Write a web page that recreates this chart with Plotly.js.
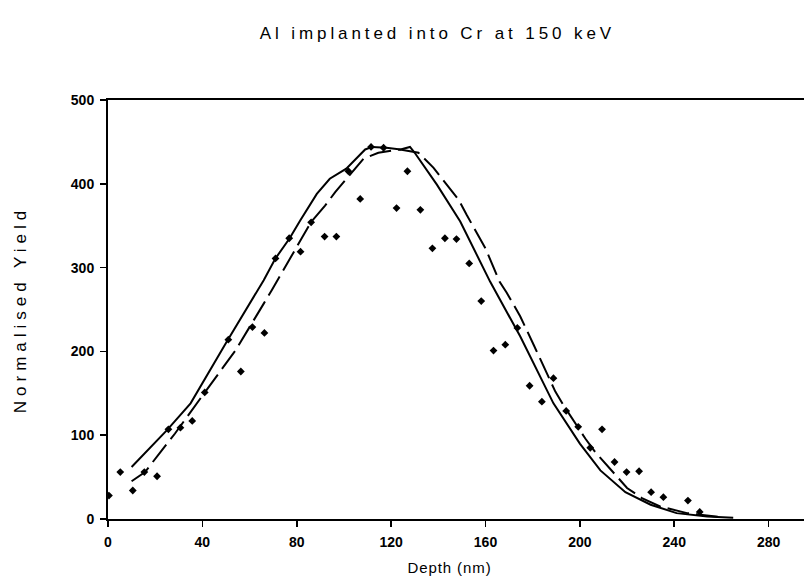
<!DOCTYPE html>
<html>
<head>
<meta charset="utf-8">
<script src="https://cdn.plot.ly/plotly-3.0.1.min.js"></script>
<style>html,body{margin:0;padding:0;background:#fff;}#chart{width:804px;height:587px;}</style>
</head>
<body>
<div id="chart"></div>
<script>
// Measured data points (depth nm, normalised yield)
var dataX = [0.4,5.2,10.5,15.4,20.8,25.6,30.7,35.7,41,51,56.3,61.2,66.3,71,76.8,81.6,86.1,91.8,96.8,101.9,106.9,111.5,116.8,122.3,126.9,132.4,137.5,142.8,147.7,153.1,158.2,163.4,168.4,173.5,178.7,183.9,188.8,194.2,199.3,204.4,209.4,214.7,219.8,225.1,230.2,235.4,245.8,250.8];
var dataY = [28,56,34,56,51,107,109,117,151,214,176,229,222,311,335,319,354,337,337,415,382,444,443,371,415,369,323,335,334,305,260,201,208,228,159,140,168,129,110,85,107,68,56,57,32,26,22,8.5];

// Simulation curve 1 (solid)
var solidX = [10,25,35,50,66,71,77,81.4,88.5,94,101,109,112,118,124,128,130,139.4,149.3,162,174.7,188.8,200,208.7,219.3,230,241,254,265];
var solidY = [62,106,138,210,285,311,335,356,388,406,418,441,444,443,441,444,437,399,355,283,218,138,90,58,32,17,7,3,1.5];

// Simulation curve 2 (dashed)
var dashX = [10,15.7,22.8,28.4,41,54,66,69.4,86,92,96.3,108.3,114.6,123.8,131.6,138,148.6,152,160,166,169,174.7,180.4,183,189.6,193,202.3,206.5,220,226.3,234,245.4,259.5];
var dashY = [45,56,82,102,151,201,257,273,354,374,390,430,437,441,437,419,381,363,323,283,270,242,208,192,152,136,96,80,37,25,15,7,2.5];

var xTicks = [0,40,80,120,160,200,240,280];
var yTicks = [0,100,200,300,400,500];

var traces = [
  {x: solidX, y: solidY, mode: 'lines', type: 'scatter', line: {color: '#000', width: 2}, hoverinfo: 'skip'},
  {x: dashX, y: dashY, mode: 'lines', type: 'scatter', line: {color: '#000', width: 2, dash: '22px,7px'}, hoverinfo: 'skip'},
  {x: dataX, y: dataY, mode: 'markers', type: 'scatter', marker: {symbol: 'diamond', size: 6, color: '#000'}}
];

var fam = 'Liberation Sans, Arial, sans-serif';

var layout = {
  width: 804, height: 587,
  margin: {l: 108, r: 0, t: 100, b: 68},
  paper_bgcolor: '#fff', plot_bgcolor: '#fff',
  showlegend: false,
  title: {text: 'Al implanted into Cr at 150 keV', font: {family: fam, size: 17, color: '#000'}, x: 0.544, xref: 'container', xanchor: 'center', y: 0.944, yref: 'container', yanchor: 'middle'},
  xaxis: {
    range: [0, 295], tickmode: 'array', tickvals: xTicks, ticktext: xTicks.map(String),
    showgrid: false, zeroline: false, showline: true, linecolor: '#000', linewidth: 2, mirror: true,
    ticks: 'outside', ticklen: 6, tickwidth: 1.5, tickcolor: '#000', ticklabelstandoff: 3,
    tickfont: {family: fam, size: 14, color: '#000'}
  },
  yaxis: {
    range: [0, 500], tickmode: 'array', tickvals: yTicks, ticktext: yTicks.map(String),
    showgrid: false, zeroline: false, showline: true, linecolor: '#000', linewidth: 2,
    ticks: 'outside', ticklen: 6, tickwidth: 1.5, tickcolor: '#000', ticklabelstandoff: 3,
    tickfont: {family: fam, size: 14, color: '#000'},
    title: {text: 'Normalised Yield', font: {family: fam, size: 17, color: '#000'}, standoff: 40}
  },
  annotations: [{
    text: 'Depth (nm)', xref: 'paper', yref: 'paper', x: 0.49, y: -0.115,
    xanchor: 'center', yanchor: 'middle', showarrow: false,
    font: {family: fam, size: 15, color: '#000'}
  }]
};

Plotly.newPlot('chart', traces, layout, {staticPlot: true, displayModeBar: false}).then(function(){
  document.querySelectorAll('.gtitle').forEach(function(t){ t.style.letterSpacing = '3.9px'; });
  document.querySelectorAll('.annotation-text').forEach(function(t){ t.style.letterSpacing = '0.9px'; });
  document.querySelectorAll('.ytitle').forEach(function(t){ t.style.letterSpacing = '5px'; });
  document.querySelectorAll('.xtick text, .ytick text').forEach(function(t){ t.style.fontWeight = '600'; });
});
</script>
</body>
</html>
